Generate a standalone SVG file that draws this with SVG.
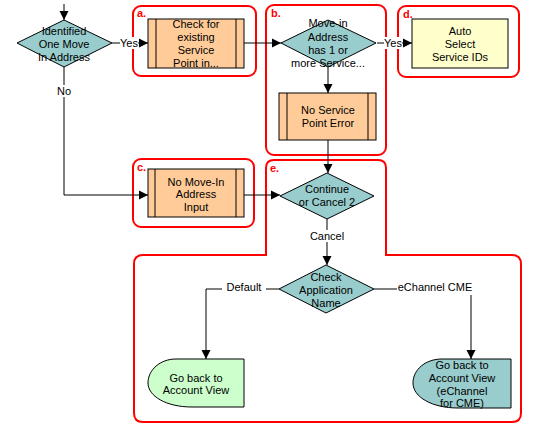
<svg xmlns="http://www.w3.org/2000/svg" width="536" height="440" viewBox="0 0 536 440">
<defs>
<marker id="arr" markerUnits="userSpaceOnUse" markerWidth="10" markerHeight="10" refX="9" refY="5" orient="auto">
<path d="M0,0.5 L9,5 L0,9.5 Z" fill="#000"/>
</marker>
<style>
.grp{fill:none;stroke:#FF0000;stroke-width:2}
.gl{font-family:"Liberation Sans",Arial,sans-serif;font-size:11px;font-weight:bold;fill:#FF0000}
.t{font-family:"Liberation Sans",Arial,sans-serif;font-size:11px;fill:#000;text-anchor:middle}
.dia{fill:#99CCCC;stroke:#000;stroke-width:1}
.sub{fill:#FFCC99;stroke:#000;stroke-width:1}
.ln{fill:none;stroke:#000;stroke-width:1}
.lbl{fill:#fff}
</style>
</defs>
<rect width="536" height="440" fill="#fff"/>
<g id="groups">
<rect class="grp" x="133" y="6" width="123" height="70" rx="8"/>
<text class="gl" x="137" y="17">a.</text>
<rect class="grp" x="266" y="5" width="120" height="150" rx="8"/>
<text class="gl" x="271" y="17">b.</text>
<rect class="grp" x="398" y="6" width="121" height="71" rx="8"/>
<text class="gl" x="403" y="18">d.</text>
<rect class="grp" x="133" y="159" width="121" height="68" rx="8"/>
<text class="gl" x="137" y="171">c.</text>
<path class="grp" d="M266,168 Q266,160 274,160 L378,160 Q386,160 386,168 L386,255 L512,255 Q521,255 521,264 L521,413 Q521,422 512,422 L143,422 Q134,422 134,413 L134,264 Q134,255 143,255 L266,255 Z"/>
<text class="gl" x="270" y="172">e.</text>
</g>
<g id="connectors">
<line class="ln" x1="64" y1="4" x2="64" y2="20" marker-end="url(#arr)"/>
<line class="ln" x1="112" y1="43" x2="148" y2="43" marker-end="url(#arr)"/>
<line class="ln" x1="244" y1="43" x2="281" y2="43" marker-end="url(#arr)"/>
<line class="ln" x1="377" y1="43" x2="412" y2="43" marker-end="url(#arr)"/>
<line class="ln" x1="328" y1="67" x2="328" y2="93" marker-end="url(#arr)"/>
<line class="ln" x1="328" y1="140" x2="328" y2="173" marker-end="url(#arr)"/>
<polyline class="ln" points="64,67 64,195 148,195" marker-end="url(#arr)"/>
<line class="ln" x1="244" y1="195" x2="280" y2="195" marker-end="url(#arr)"/>
<line class="ln" x1="327" y1="219" x2="327" y2="265" marker-end="url(#arr)"/>
<polyline class="ln" points="279,289 206,289 206,359" marker-end="url(#arr)"/>
<polyline class="ln" points="374,289 471,289 471,359" marker-end="url(#arr)"/>
<rect class="lbl" x="120" y="37" width="18" height="12"/>
<text class="t" x="129" y="47">Yes</text>
<rect class="lbl" x="384" y="37" width="18" height="12"/>
<text class="t" x="393" y="47">Yes</text>
<rect class="lbl" x="56" y="85" width="16" height="12"/>
<text class="t" x="64" y="95">No</text>
<rect class="lbl" x="310" y="230" width="34" height="12"/>
<text class="t" x="327" y="240">Cancel</text>
<rect class="lbl" x="222" y="283" width="44" height="12"/>
<text class="t" x="244" y="291">Default</text>
<rect class="lbl" x="397" y="283" width="76" height="12"/>
<text class="t" x="435" y="291">eChannel CME</text>
</g>
<g id="identified">
<polygon class="dia" points="64,20 112,43 64,67 17,43"/>
<text class="t" x="64" y="35">Identified</text>
<text class="t" x="64" y="48">One Move</text>
<text class="t" x="64" y="61">In Address</text>
</g>
<g id="check-existing">
<rect class="sub" x="148" y="19" width="96" height="49"/>
<line class="ln" x1="156" y1="19" x2="156" y2="68"/>
<line class="ln" x1="236" y1="19" x2="236" y2="68"/>
<text class="t" x="196" y="28">Check for</text>
<text class="t" x="196" y="41">existing</text>
<text class="t" x="196" y="54">Service</text>
<text class="t" x="196" y="67">Point in...</text>
</g>
<g id="move-in-address">
<polygon class="dia" points="328,20 376,43 328,67 281,43"/>
<text class="t" x="328" y="27">Move-in</text>
<text class="t" x="328" y="41">Address</text>
<text class="t" x="328" y="54">has 1 or</text>
<text class="t" x="328" y="67">more Service...</text>
</g>
<g id="auto-select">
<rect x="412" y="19" width="96" height="49" fill="#FFFFCC" stroke="#000"/>
<text class="t" x="460" y="35">Auto</text>
<text class="t" x="460" y="48">Select</text>
<text class="t" x="460" y="61">Service IDs</text>
</g>
<g id="no-service-point">
<rect class="sub" x="279" y="93" width="97" height="47"/>
<line class="ln" x1="287" y1="93" x2="287" y2="140"/>
<line class="ln" x1="368" y1="93" x2="368" y2="140"/>
<text class="t" x="328" y="114">No Service</text>
<text class="t" x="328" y="127">Point Error</text>
</g>
<g id="no-move-in">
<rect class="sub" x="148" y="169" width="96" height="48"/>
<line class="ln" x1="155" y1="169" x2="155" y2="217"/>
<line class="ln" x1="236" y1="169" x2="236" y2="217"/>
<text class="t" x="196" y="186">No Move-In</text>
<text class="t" x="196" y="198">Address</text>
<text class="t" x="196" y="211">Input</text>
</g>
<g id="continue-cancel">
<polygon class="dia" points="327,173 374,196 327,219 280,196"/>
<text class="t" x="327" y="193">Continue</text>
<text class="t" x="327" y="206">or Cancel 2</text>
</g>
<g id="check-app">
<polygon class="dia" points="326,265 374,289 326,313 279,289"/>
<text class="t" x="326" y="281">Check</text>
<text class="t" x="326" y="294">Application</text>
<text class="t" x="326" y="307">Name</text>
</g>
<g id="go-back">
<path d="M244,359 L176,359 C160,359 148,370 148,383 C148,396 166,407 192,407 L244,407 Z" fill="#CCFFCC" stroke="#000"/>
<text class="t" x="196" y="382">Go back to</text>
<text class="t" x="196" y="394">Account View</text>
</g>
<g id="go-back-echannel">
<path d="M511,359 L442,359 C425,359 413,370 413,383 C413,397 432,408 458,408 L511,408 Z" fill="#99CCCC" stroke="#000"/>
<text class="t" x="462" y="369">Go back to</text>
<text class="t" x="462" y="382">Account View</text>
<text class="t" x="462" y="395">(eChannel</text>
<text class="t" x="462" y="407">for CME)</text>
</g>
</svg>
